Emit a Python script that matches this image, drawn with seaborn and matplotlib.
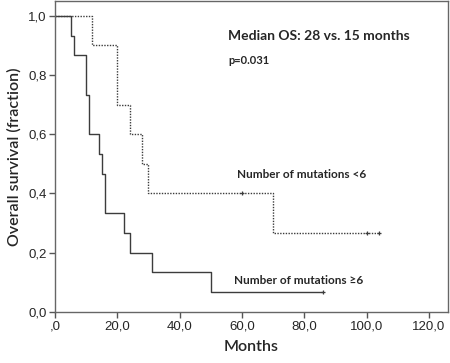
import numpy as np
import pandas as pd
import seaborn as sns
import matplotlib.pyplot as plt

# survival times (months) and event flag (1 = death, 0 = censored)
low_times = [12, 20, 20, 24, 28, 30, 60, 70, 100, 104]
low_events = [1, 1, 1, 1, 1, 1, 0, 1, 0, 0]
high_times = [5, 6, 10, 10, 11, 11, 14, 15, 16, 16, 22, 24, 31, 50, 86]
high_events = [1, 1, 1, 1, 1, 1, 1, 1, 1, 1, 1, 1, 1, 1, 0]

x_ticks = [0, 20, 40, 60, 80, 100, 120]
x_labels = [',0', '20,0', '40,0', '60,0', '80,0', '100,0', '120,0']
y_ticks = [0, 0.2, 0.4, 0.6, 0.8, 1.0]
y_labels = ['0,0', '0,2', '0,4', '0,6', '0,8', '1,0']


def kaplan_meier(times, events):
    t = np.array(times, dtype=float)
    e = np.array(events)
    xs, ys, cx, cy = [0.0], [1.0], [], []
    s = 1.0
    at_risk = len(t)
    for u in np.unique(t):
        d = int(((t == u) & (e == 1)).sum())
        c = int(((t == u) & (e == 0)).sum())
        if d:
            s *= (at_risk - d) / at_risk
        xs.append(u)
        ys.append(s)
        if c:
            cx.append(u)
            cy.append(s)
        at_risk -= d + c
    return pd.DataFrame({'t': xs, 's': ys}), cx, cy


sns.set_style('white')
plt.rcParams['font.family'] = ['Liberation Sans', 'DejaVu Sans']

fig = plt.figure(figsize=(4.5, 3.63), dpi=100)
ax = fig.add_axes([0.1222, 0.1413, 0.8727, 0.856])

line_col = '#3c3c3c'
for times, events, ls in [(low_times, low_events, (0, (1, 1))),
                          (high_times, high_events, '-')]:
    df, cx, cy = kaplan_meier(times, events)
    sns.lineplot(data=df, x='t', y='s', drawstyle='steps-post', color=line_col,
                 linestyle=ls, linewidth=1.0, ax=ax, estimator=None, sort=False)
    ax.plot(cx, cy, linestyle='none', marker='+', markersize=3.2,
            markeredgewidth=0.9, color=line_col)

ax.set_xlim(0, 126)
ax.set_ylim(0, 1.05)
ax.set_xticks(x_ticks)
ax.set_xticklabels(x_labels)
ax.set_yticks(y_ticks)
ax.set_yticklabels(y_labels)
ax.tick_params(axis='both', direction='out', length=4, width=1, color='#555555',
               labelsize=9.5, pad=2, bottom=True, left=True)
for sp in ax.spines.values():
    sp.set_color('#666666')
    sp.set_linewidth(1)

ax.set_xlabel('Months', family='Lato', fontsize=11.5, fontweight='semibold',
              labelpad=6)
ax.set_ylabel('Overall survival (fraction)', family='Lato', fontsize=11.5,
              fontweight='semibold', labelpad=5)

ax.text(55.5, 0.93, 'Median OS: 28 vs. 15 months', family='Lato', fontsize=10,
        fontweight='bold', va='center', ha='left')
ax.text(55.5, 0.85, 'p=0.031', family='Lato', fontsize=8,
        fontweight='bold', va='center', ha='left')
ax.text(58.5, 0.464, 'Number of mutations <6', family='Lato', fontsize=8.5,
        fontweight='bold', va='center', ha='left')
ax.text(57.5, 0.105, 'Number of mutations ≥6', family='Lato', fontsize=8.5,
        fontweight='bold', va='center', ha='left')

fig.savefig('out.png', dpi=100)
